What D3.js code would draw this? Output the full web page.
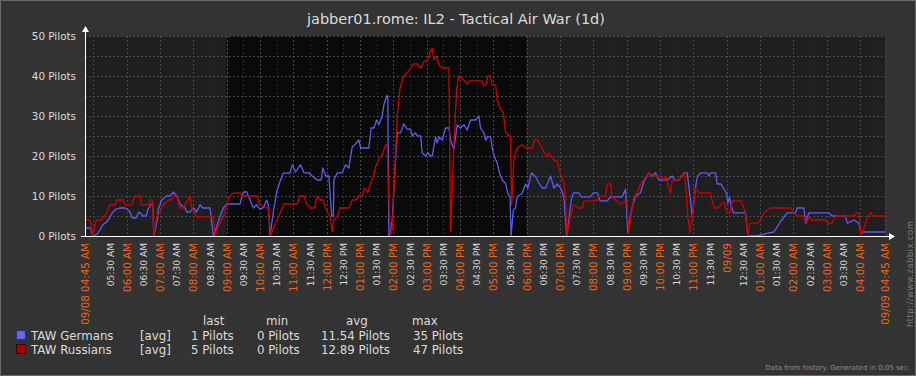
<!DOCTYPE html>
<html>
<head>
    <meta charset="utf-8" />
    <title>jabber01.rome: IL2 - Tactical Air War (1d)</title>
    <style>
        body { margin: 0; background: #333333; }
        svg { display: block; font-family: "DejaVu Sans", sans-serif; }
    </style>
</head>
<body>
    <div id="chart"></div>
    <script src="https://cdn.jsdelivr.net/npm/d3@7"></script>
    <script>
        // minutes after 09/08 04:45 AM, value in pilots
        var germans = [[0,2],[10,2],[14,0],[22,0.5],[27,1.5],[32,2.8],[40,3.6],[45,4.8],[50,6],[56,6.7],[63,7],[72,7],[76,6.7],[81,6],[85,4.5],[92,4.5],[97,6],[101,5.5],[104,5],[110,5],[113,6.5],[119,8],[122,8],[124,0],[130,4],[132,6.7],[138,9],[147,10],[153,10],[159,11],[165,10],[171,8],[180,7],[183,6],[189,6],[195,7],[201,6],[207,7.8],[212,7],[225,7],[231,0],[237,2.3],[243,4.8],[249,7],[255,8],[279,8],[285,11],[291,11],[294,10],[303,7],[309,7.8],[315,6.7],[321,7.1],[327,9],[330,7.8],[333,0],[339,6],[345,11],[351,13.6],[357,15.7],[369,15.7],[373,17.8],[379,16],[388,17.8],[394,15.8],[403,15.8],[409,15],[418,14],[425,14],[428,17],[433,15],[439,15],[444,5],[447,5],[448,14],[454,15.8],[463,15.8],[469,17.8],[475,17],[481,22.3],[487,23],[493,24],[496,22],[511,22],[515,27],[520,27],[525,29],[529,27.8],[535,30],[538,32.8],[543,35],[545,35],[547,0],[550,1.5],[553,4],[556,12],[562,25.8],[568,25.8],[574,28],[580,26.7],[586,26.7],[589,25],[595,25.8],[598,25],[604,25],[607,20.8],[613,20],[617,20.8],[622,20],[625,20],[631,24.8],[634,23.2],[637,24.8],[643,24],[649,27],[655,27],[658,24],[664,21.7],[667,24.8],[670,27.8],[676,27],[682,27.8],[688,26.5],[694,29],[703,29],[709,30],[712,27],[718,25.8],[721,24],[725,24.8],[730,24.8],[733,22],[737,19.8],[742,18.2],[747,15.3],[751,14],[757,13.2],[761,10.7],[765,9.8],[767,0],[771,6.5],[775,7],[778,9.8],[787,10.7],[793,13],[797,12],[804,15.8],[811,14.8],[817,13.3],[823,12],[829,12],[838,15],[844,12],[850,13],[856,12],[862,9.8],[867,0],[871,4],[875,8.8],[879,10.8],[889,10.8],[893,9.8],[910,9.8],[915,10.8],[922,10.8],[927,8.8],[940,8.8],[946,9.8],[967,9.8],[973,11.7],[977,1],[982,5],[985,7.3],[991,10],[1000,10.8],[1006,13.6],[1015,15.8],[1021,15],[1027,15.8],[1033,14],[1048,14],[1057,15],[1062,14],[1069,14],[1078,15.8],[1084,15.8],[1089,10],[1093,4.8],[1099,12.3],[1102,14.8],[1108,15.8],[1120,15.8],[1123,15],[1126,15.8],[1135,15.8],[1138,13],[1145,13],[1150,11.7],[1155,10.7],[1157,8.2],[1160,9.8],[1162,8.2],[1167,5.8],[1189,5.8],[1193,0],[1210,0],[1231,0.8],[1240,1],[1252,3.6],[1264,5.8],[1279,5.8],[1282,7],[1294,7],[1297,3.2],[1303,5.8],[1339,5.8],[1345,5],[1369,5],[1372,3.2],[1384,4],[1393,3.2],[1396,1],[1440,1]];

        var russians = [[0,4],[9,4],[14,0],[20,4],[30,4],[39,5.7],[45,7.8],[54,7.8],[57,9],[69,9],[72,7.8],[84,7.8],[90,10],[99,10],[102,7.8],[114,7.8],[117,9],[121,9],[124,0],[129,4.8],[135,6],[141,7.8],[150,9],[156,9],[159,10],[165,10],[171,7],[177,7],[183,8.6],[189,10],[192,7],[201,4.8],[231,4.8],[234,0],[240,2.3],[249,4.8],[256,8.3],[260,10],[268,10.8],[279,10.8],[283,10],[310,10],[313,8],[327,7],[330,7],[334,0],[340,2.3],[346,4],[355,7],[358,8],[382,8],[387,10],[394,10],[399,8],[406,7],[413,7],[418,10],[424,9],[428,9],[433,7],[437,5.8],[441,5],[445,1],[448,4],[454,4.8],[459,7],[475,7],[481,9],[487,9],[493,10],[499,10],[503,12],[509,10.8],[514,13.2],[519,15],[523,17.3],[529,19.2],[535,20.3],[541,22.8],[544,22.8],[549,0],[553,1.5],[557,14],[562,30],[567,37],[574,40],[580,40.8],[586,42],[591,43],[598,43],[604,42],[610,43.6],[617,44],[622,46.5],[625,47],[628,44],[633,45],[637,42.8],[643,42],[655,42],[658,1],[664,22.3],[669,37],[673,40],[679,39.4],[688,38],[693,38.8],[714,38.8],[718,37.5],[722,38],[725,40],[730,40],[733,37.8],[739,37.8],[742,34],[747,32],[753,30.7],[757,26],[763,25],[766,25],[768,7.8],[772,19],[778,22],[787,22.8],[793,22],[805,22],[809,24],[814,24],[820,22.8],[826,21],[832,19.8],[835,20.8],[844,19],[850,18.8],[856,15.3],[862,13.2],[865,8],[868,0],[873,4.4],[879,7.8],[889,7],[895,7],[898,8.8],[922,8.8],[925,10],[937,10],[940,13],[946,13],[949,9.8],[955,9],[964,8],[973,8.8],[975,8.8],[979,1],[982,4],[988,9.8],[994,10.8],[1000,13],[1009,14.8],[1015,15.8],[1024,15],[1036,15],[1042,14],[1045,15],[1049,13],[1054,10.8],[1057,14],[1069,14],[1072,15],[1078,15.8],[1081,13],[1085,4.8],[1089,1],[1093,4.8],[1099,12],[1105,10.8],[1126,10.8],[1129,8.8],[1133,7],[1141,7],[1145,8.2],[1151,8.2],[1155,5.8],[1161,5.8],[1165,8.8],[1180,8.8],[1186,7],[1189,5.8],[1193,0],[1197,3.2],[1210,3.2],[1216,4],[1222,5.8],[1234,7],[1270,7],[1276,5.8],[1282,5],[1294,5],[1299,3.2],[1303,4.8],[1309,4],[1333,4],[1337,3.2],[1345,3.2],[1351,5],[1384,5],[1389,5.8],[1393,5.8],[1397,0],[1402,1.9],[1408,4.4],[1414,5.8],[1419,5],[1440,5]];

        var seriesNames = ["TAW Germans", "TAW Russians"];
        var seriesColors = ["#5c5cf2", "#cc0000"];
        var swatchColors = ["#6464ee", "#aa0000"];
        var lastVals = [1, 5];
        var minVals = [0, 0];
        var avgVals = [11.54, 12.89];
        var maxVals = [35, 47];
        var yTicks = [0, 10, 20, 30, 40, 50];

        var width = 916, height = 376;
        var start = new Date(2011, 8, 8, 4, 45);
        var end = d3.timeDay.offset(start, 1);
        var workStart = new Date(2011, 8, 8, 9, 0);
        var workEnd = new Date(2011, 8, 8, 18, 0);

        var x = d3.scaleTime().domain([start, end]).range([85, 885]);
        var y = d3.scaleLinear().domain([0, 50]).range([236, 36]);

        var svg = d3.select("#chart").append("svg")
            .attr("width", width)
            .attr("height", height);

        svg.append("rect")
            .attr("x", 0.5).attr("y", 0.5)
            .attr("width", width - 1).attr("height", height - 1)
            .attr("fill", "#333333")
            .attr("stroke", "#6a6a6a");

        svg.append("text")
            .attr("x", 456).attr("y", 24)
            .attr("text-anchor", "middle")
            .attr("font-size", 14.5)
            .attr("fill", "#dcdcdc")
            .text("jabber01.rome: IL2 - Tactical Air War (1d)");

        // plot background, work time darker
        svg.append("rect")
            .attr("x", x(start)).attr("y", y(50))
            .attr("width", x(end) - x(start)).attr("height", y(0) - y(50))
            .attr("fill", "#1f1f1f");
        svg.append("rect")
            .attr("x", x(workStart)).attr("y", y(50))
            .attr("width", x(workEnd) - x(workStart)).attr("height", y(0) - y(50))
            .attr("fill", "#0a0a0a");

        var halfHours = d3.timeMinute.every(30).range(d3.timeMinute.offset(start, 1), d3.timeMinute.offset(end, 1));
        var grid = svg.append("g").attr("stroke-dasharray", "2,2").attr("shape-rendering", "crispEdges");
        grid.selectAll(".vgrid")
            .data(halfHours)
            .join("line")
            .attr("class", "vgrid")
            .attr("x1", d => Math.round(x(d)) + 0.5).attr("x2", d => Math.round(x(d)) + 0.5)
            .attr("y1", y(50)).attr("y2", y(0))
            .attr("stroke", d => d.getMinutes() === 0 ? "#4a4a4a" : "#262626");
        grid.append("line")
            .attr("x1", x(end) + 0.5).attr("x2", x(end) + 0.5)
            .attr("y1", y(50)).attr("y2", y(0))
            .attr("stroke", "#4a4a4a");
        grid.selectAll(".hgrid")
            .data(d3.range(5, 55, 5))
            .join("line")
            .attr("class", "hgrid")
            .attr("x1", x(start)).attr("x2", x(end))
            .attr("y1", d => y(d) + 0.5).attr("y2", d => y(d) + 0.5)
            .attr("stroke", "#4a4a4a");

        // series
        var line = d3.line()
            .x(d => x(d3.timeMinute.offset(start, d[0])))
            .y(d => y(d[1]));
        [germans, russians].forEach(function (data, i) {
            svg.append("path")
                .datum(data)
                .attr("fill", "none")
                .attr("stroke", seriesColors[i])
                .attr("stroke-width", 1.3)
                .attr("stroke-linejoin", "round")
                .attr("d", line);
        });

        // y axis
        var yAxis = svg.append("g")
            .attr("transform", "translate(" + x(start) + ",0)")
            .call(d3.axisLeft(y).tickValues(yTicks).tickSize(0).tickPadding(9)
                .tickFormat(d => d + " Pilots"));
        yAxis.select(".domain").remove();
        yAxis.selectAll("text")
            .attr("fill", "#dcdcdc")
            .attr("font-size", 10.4)
            .attr("font-family", "DejaVu Sans");

        // x axis
        var tickTimes = [start].concat(halfHours.filter(d => d - start > 40 * 60000 && end - d > 40 * 60000), [end]);
        var fmtTime = d3.timeFormat("%I:%M %p");
        var fmtFull = d3.timeFormat("%m/%d %I:%M %p");
        var fmtDay = d3.timeFormat("%m/%d");
        var isMajor = d => +d === +start || +d === +end || d.getMinutes() === 0;
        var xAxis = svg.append("g")
            .attr("transform", "translate(0," + y(0) + ")")
            .call(d3.axisBottom(x).tickValues(tickTimes).tickSize(0)
                .tickFormat(d => (+d === +start || +d === +end) ? fmtFull(d)
                    : (d.getHours() === 0 && d.getMinutes() === 0) ? fmtDay(d) : fmtTime(d)));
        xAxis.select(".domain").remove();
        xAxis.selectAll("text")
            .attr("transform", "rotate(-90)")
            .attr("x", -7).attr("y", 0).attr("dy", "0.35em")
            .attr("text-anchor", "end")
            .attr("font-family", "DejaVu Sans")
            .attr("font-size", d => isMajor(d) ? 10.3 : 9.1)
            .attr("fill", d => isMajor(d) ? "#f0641e" : "#dcdcdc");

        // axis lines with arrows
        svg.append("line")
            .attr("x1", 81).attr("x2", 889)
            .attr("y1", y(0) + 0.5).attr("y2", y(0) + 0.5)
            .attr("stroke", "#ffffff");
        svg.append("path")
            .attr("d", "M889,233L895,236.5L889,240Z")
            .attr("fill", "#ffffff");
        svg.append("line")
            .attr("x1", x(start) + 0.5).attr("x2", x(start) + 0.5)
            .attr("y1", y(0)).attr("y2", 31)
            .attr("stroke", "#ffffff");
        svg.append("path")
            .attr("d", "M82,32L85.5,26L89,32Z")
            .attr("fill", "#ffffff");

        // legend
        var legend = svg.append("g")
            .attr("font-size", 11.8)
            .attr("fill", "#dcdcdc");
        var heads = [["last", 203], ["min", 266], ["avg", 346], ["max", 412]];
        legend.selectAll(".head")
            .data(heads)
            .join("text")
            .attr("class", "head")
            .attr("x", d => d[1]).attr("y", 325)
            .text(d => d[0]);
        seriesNames.forEach(function (name, i) {
            var row = legend.append("g").attr("transform", "translate(0," + (340 + i * 14) + ")");
            row.append("rect")
                .attr("x", 16.5).attr("y", -9.5)
                .attr("width", 9).attr("height", 9)
                .attr("fill", swatchColors[i])
                .attr("stroke", i === 0 ? "#2a2a7a" : "#3a0000");
            row.append("text").attr("x", 31).text(name);
            row.append("text").attr("x", 140).text("[avg]");
            row.append("text").attr("x", 191).text(lastVals[i] + " Pilots");
            row.append("text").attr("x", 257).text(minVals[i] + " Pilots");
            row.append("text").attr("x", 321).text(avgVals[i].toFixed(2) + " Pilots");
            row.append("text").attr("x", 413).text(maxVals[i] + " Pilots");
        });

        svg.append("text")
            .attr("x", 910).attr("y", 370)
            .attr("text-anchor", "end")
            .attr("font-size", 7)
            .attr("fill", "#8c8c8c")
            .text("Data from history. Generated in 0.05 sec.");

        svg.append("text")
            .attr("transform", "translate(913,327) rotate(-90)")
            .attr("font-size", 8.5)
            .attr("textLength", 106)
            .attr("fill", "#7a7a7a")
            .text("http://www.zabbix.com");
    </script>
</body>
</html>
